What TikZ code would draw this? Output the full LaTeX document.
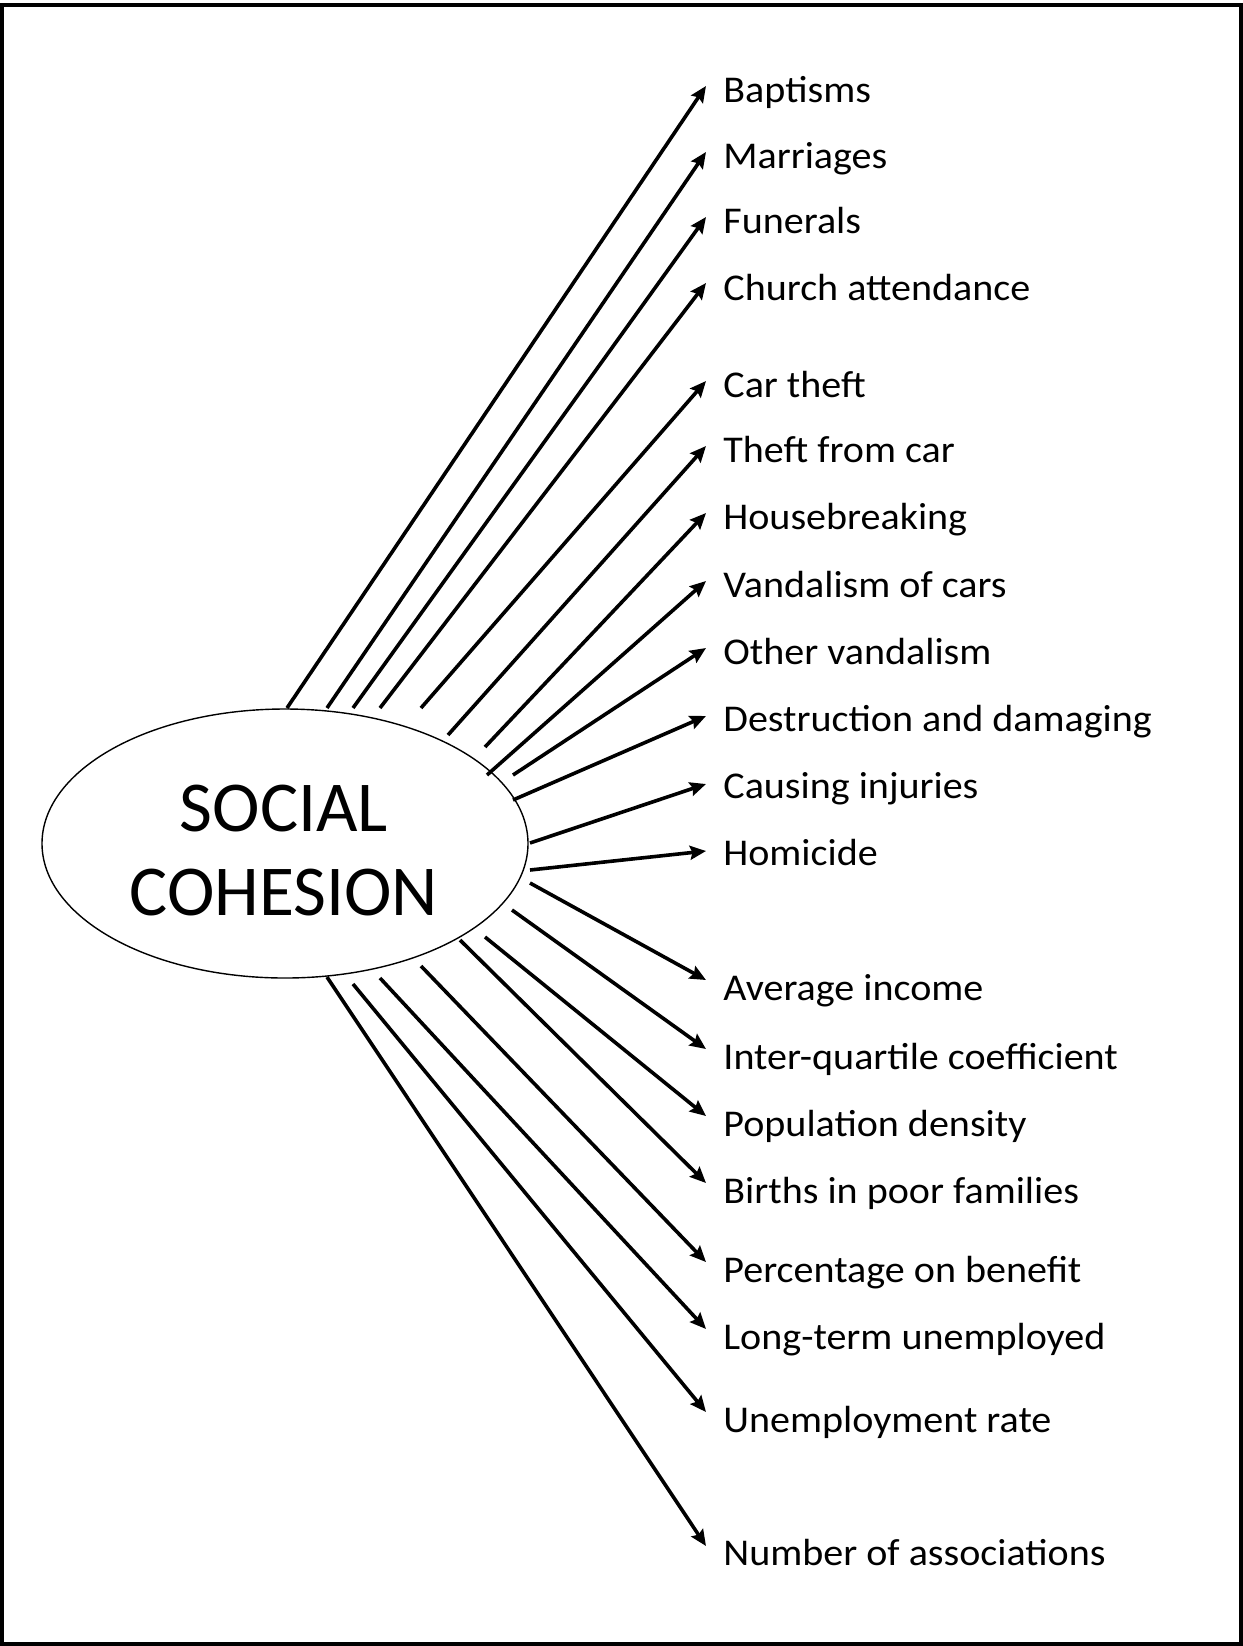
\documentclass[tikz,border=0pt]{standalone}
\usepackage{fontspec}
\setmainfont{Carlito}[FakeStretch=1.06]
\newfontfamily\hubfont{Carlito}
\usetikzlibrary{arrows.meta, positioning, calc, shapes.geometric}

\begin{document}
\begin{tikzpicture}[
    x=0.5pt, y=-0.5pt,
    every node/.style={font=\fontsize{18.9}{22}\selectfont},
    hub/.style={draw, ellipse, line width=0.7pt, minimum width=243pt, minimum height=134.5pt, outer sep=0pt},
    hubtext/.style={align=center, font=\hubfont\fontsize{35.8}{42}\selectfont},
    item/.style={anchor=west, inner sep=0pt, text height=1.3ex, text depth=0pt},
    arr/.style={-{Stealth[length=8pt, width=7pt, inset=1.2pt]}, line width=1.8pt},
]

% Frame
\useasboundingbox (0,0) rectangle (1243,1646);
\draw[line width=2pt] (2,5) rectangle (1241,1644);

% Social cohesion
\node[hub] (hub) at (285,843.5) {};
\node[hubtext] (title) at (284,850) {SOCIAL\\COHESION};

% Indicators: name / label y / tip y / start x / start y / text
\foreach \n/\ly/\ty/\sx/\sy/\t in {
    bap/96/86/287/708/Baptisms,
    mar/162/152/327/708/Marriages,
    fun/227/217/353/708/Funerals,
    chu/294/283/380/708/Church attendance,
    cart/391/381/421/708/Car theft,
    thef/456/446/448/735/Theft from car,
    hou/523/513/485/747/Housebreaking,
    van/591/581/487/775/Vandalism of cars,
    oth/658/648/513/775/Other vandalism,
    des/725/716/513/800/Destruction and damaging,
    cau/792/784/530/843/Causing injuries,
    hom/859/851/530/870/Homicide,
    avg/994/980/530/883/Average income,
    iqc/1063/1049/512/910/Inter-quartile coefficient,
    pop/1130/1116/485/937/Population density,
    bir/1197/1183/460/940/Births in poor families,
    per/1276/1262/421/966/Percentage on benefit,
    lon/1343/1329/380/978/Long-term unemployed,
    une/1426/1412/353/984/Unemployment rate,
    num/1559/1546/327/977/Number of associations} {
    \node[item] (\n) at (723,\ly) {\t};
    \coordinate (\n-s) at (\sx,\sy);
    \coordinate (\n-e) at (706,\ty);
    \draw[arr] (\n-s) -- (\n-e);
}

\end{tikzpicture}
\end{document}
